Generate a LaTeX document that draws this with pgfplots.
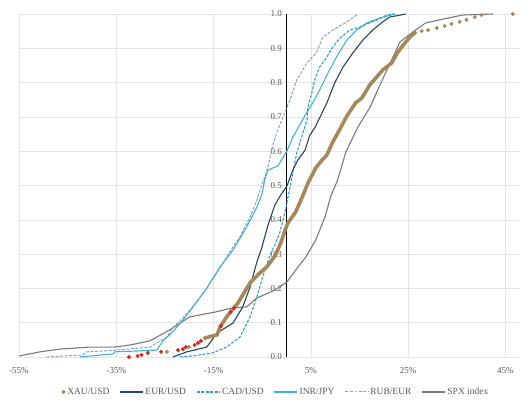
\documentclass[border=0pt]{standalone}
\usepackage{pgfplots}
\pgfplotsset{compat=1.18}
\usepackage{fontspec}
\setmainfont{Liberation Serif}
\definecolor{xau}{HTML}{A8875A}
\definecolor{xred}{HTML}{D42A1A}
\definecolor{eur}{HTML}{27495A}
\definecolor{cad}{HTML}{2B9FD9}
\definecolor{inr}{HTML}{3DB2E3}
\definecolor{rub}{HTML}{8BA3B6}
\definecolor{spx}{HTML}{7A7A7A}
\definecolor{gridc}{HTML}{E4E4E4}
\definecolor{lab}{HTML}{595959}
\begin{document}
\begin{tikzpicture}
\begin{axis}[
  name=ax,
  scale only axis,
  width=501pt, height=343pt,
  xmin=-55, xmax=48, ymin=0, ymax=1,
  enlargelimits=false,
  clip=false,
  axis x line=bottom,
  axis y line=middle,
  axis line style={-},
  x axis line style={draw=gridc},
  y axis line style={draw=black, line width=1.3pt},
  hide obscured x ticks=false,
  hide obscured y ticks=false,
  major tick length=0pt,
  xtick={-55,-35,-15,5,25,45},
  xticklabels={-55\%,-35\%,-15\%,5\%,25\%,45\%},
  ytick={0,0.1,0.2,0.3,0.4,0.5,0.6,0.7,0.8,0.9,1.0},
  yticklabels={0.0,0.1,0.2,0.3,0.4,0.5,0.6,0.7,0.8,0.9,1.0},
  xmajorgrids, ymajorgrids,
  grid style={draw=gridc, line width=0.6pt},
  tick label style={font=\fontsize{9}{11}\selectfont, text=lab},
  xticklabel style={yshift=-7pt},
  yticklabel style={xshift=-1pt},
  legend columns=6,
  legend image code/.code={\draw[mark repeat=2,mark phase=2] plot coordinates {(0cm,0cm) (0.4cm,0cm) (0.8cm,0cm)};},
  legend style={at={(0.513,-0.102)}, anchor=center, draw=none, fill=none,
    font=\fontsize{9.5}{11}\selectfont, text=lab,
    /tikz/every even column/.append style={column sep=8pt}},
  legend cell align=left,
]
\addlegendimage{only marks, mark=*, mark size=1.8pt, draw=xau, fill=xau}
\addlegendentry{XAU/USD}
\addlegendimage{draw=eur, line width=1.2pt}
\addlegendentry{EUR/USD}
\addlegendimage{draw=cad, line width=1.2pt, dash pattern=on 3pt off 1.5pt}
\addlegendentry{CAD/USD}
\addlegendimage{draw=inr, line width=1.2pt}
\addlegendentry{INR/JPY}
\addlegendimage{draw=rub, line width=1pt, dash pattern=on 3pt off 1.5pt}
\addlegendentry{RUB/EUR}
\addlegendimage{draw=spx, line width=1.2pt}
\addlegendentry{SPX index}

% SPX index
\addplot[forget plot, draw=spx, line width=1.1pt] coordinates {
(-55.0,0.003) (-50.7,0.015) (-46.6,0.023) (-40.4,0.029) (-35.3,0.029) (-32.2,0.035)
(-28.1,0.047) (-24.0,0.079) (-19.9,0.117) (-14.7,0.131) (-11.2,0.143) (-8.2,0.146)
(-6.1,0.172) (-2.4,0.195) (0.1,0.219) (1.9,0.254) (4.0,0.292) (6.0,0.341) (7.9,0.408)
(9.1,0.469) (10.5,0.516) (12.2,0.598) (14.7,0.671) (17.2,0.729) (19.2,0.793)
(21.6,0.866) (23.3,0.918) (26.0,0.948) (28.6,0.974) (31.5,0.983) (36.2,0.997) (42.4,1.0)
};
% RUB/EUR
\addplot[forget plot, draw=rub, line width=1pt, dash pattern=on 3pt off 1.5pt] coordinates {
(-49.3,0.0) (-41.9,0.006) (-41.1,0.015) (-34.9,0.020) (-28.1,0.029) (-26.7,0.041)
(-24.6,0.058) (-23.4,0.085) (-21.3,0.114) (-19.3,0.146) (-16.4,0.201) (-13.7,0.259)
(-11.0,0.321) (-9.6,0.350) (-7.5,0.408) (-6.1,0.458) (-5.1,0.501) (-4.1,0.539)
(-2.8,0.618) (-1.8,0.662) (-0.8,0.697) (0.7,0.749) (2.1,0.808) (4.2,0.857)
(6.2,0.889) (7.5,0.933) (9.5,0.953) (12.4,0.977) (14.7,1.0)
};
% INR/JPY
\addplot[forget plot, draw=inr, line width=1.1pt] coordinates {
(-42.5,0.0) (-35.7,0.009) (-35.3,0.015) (-26.7,0.020) (-25.4,0.047) (-23.4,0.073)
(-21.3,0.108) (-19.2,0.146) (-16.4,0.201) (-13.7,0.262) (-11.0,0.312) (-8.2,0.379)
(-6.1,0.437) (-5.1,0.472) (-4.5,0.516) (-3.8,0.545) (-1.8,0.557) (-0.8,0.580)
(0.1,0.601) (1.3,0.641) (2.7,0.676) (4.2,0.714) (5.4,0.741) (6.8,0.778) (8.3,0.822)
(10.3,0.875) (12.4,0.924) (14.4,0.953) (16.5,0.974) (19.2,0.988) (22.3,1.0)
};
% CAD/USD
\addplot[forget plot, draw=cad, line width=1.1pt, dash pattern=on 3pt off 1.5pt] coordinates {
(-21.9,0.0) (-19.3,0.003) (-15.2,0.012) (-12.3,0.029) (-9.6,0.058) (-7.5,0.117)
(-6.1,0.175) (-4.9,0.233) (-3.4,0.297) (-2.4,0.327) (-1.4,0.362) (-0.3,0.423)
(0.7,0.493) (1.3,0.539) (2.1,0.595) (3.1,0.641) (4.2,0.691) (4.4,0.729) (5.2,0.770)
(5.8,0.808) (6.8,0.845) (8.3,0.875) (9.5,0.904) (11.0,0.930) (13.0,0.953)
(15.1,0.962) (17.1,0.974) (18.6,0.983) (20.6,0.997) (22.3,1.0)
};
% EUR/USD
\addplot[forget plot, draw=eur, line width=1.1pt] coordinates {
(-23.4,0.0) (-20.5,0.015) (-16.4,0.029) (-14.3,0.070) (-11.0,0.099) (-9.0,0.146)
(-7.5,0.204) (-6.1,0.277) (-5.1,0.318) (-3.8,0.385) (-2.4,0.443) (-1.2,0.472)
(0.1,0.499) (1.3,0.545) (2.3,0.574) (3.8,0.603) (4.8,0.647) (5.8,0.668) (6.8,0.697)
(8.3,0.741) (9.9,0.799) (11.6,0.845) (13.6,0.886) (15.7,0.924) (17.7,0.953)
(19.8,0.977) (21.2,0.991) (24.5,1.0)
};
% XAU/USD dense band
\addplot[forget plot, draw=xau, line width=3.6pt, line cap=round, line join=round] coordinates {
(-16.8,0.055) (-15.4,0.061) (-14.3,0.064) (-13.7,0.087) (-12.3,0.117) (-11.7,0.128)
(-10.0,0.157) (-9.0,0.181) (-7.5,0.216) (-5.5,0.245) (-4.1,0.262) (-2.4,0.294)
(-1.2,0.332) (-0.3,0.370) (0.3,0.391) (1.9,0.423) (3.4,0.472) (4.4,0.507) (6.0,0.551)
(7.3,0.574) (8.3,0.589) (9.5,0.627) (10.9,0.662) (12.3,0.700) (14.2,0.741)
(15.5,0.755) (17.1,0.793) (19.8,0.837) (21.6,0.857) (22.9,0.889) (24.3,0.915)
(25.4,0.933) (26.4,0.945)
};
% XAU/USD points
\addplot[forget plot, only marks, mark=*, mark size=1.8pt, draw=xau, fill=xau] coordinates {
(-24.6,0.015) (-20.1,0.029) (-16.8,0.055) (22.9,0.889) (24.3,0.915) (25.4,0.933)
(26.4,0.945) (27.8,0.950) (29.1,0.953) (30.9,0.959) (32.5,0.965) (33.9,0.971)
(35.6,0.977) (37.0,0.983) (38.7,0.991) (40.1,0.997) (46.5,1.0)
};
% XAU/USD lower-tail points (red)
\addplot[forget plot, only marks, mark=*, mark size=1.8pt, draw=xred, fill=xred] coordinates {
(-32.4,0.0) (-30.6,0.003) (-29.8,0.006) (-28.5,0.012) (-25.8,0.015) (-22.3,0.020)
(-21.3,0.023) (-20.7,0.029) (-18.9,0.035) (-18.2,0.041) (-17.6,0.047) (-13.5,0.090)
(-11.5,0.131) (-10.8,0.143)
};
\end{axis}
\path ([xshift=-19pt,yshift=-39pt]ax.south west) rectangle ([xshift=6pt,yshift=14pt]ax.north east);
\end{tikzpicture}
\end{document}
